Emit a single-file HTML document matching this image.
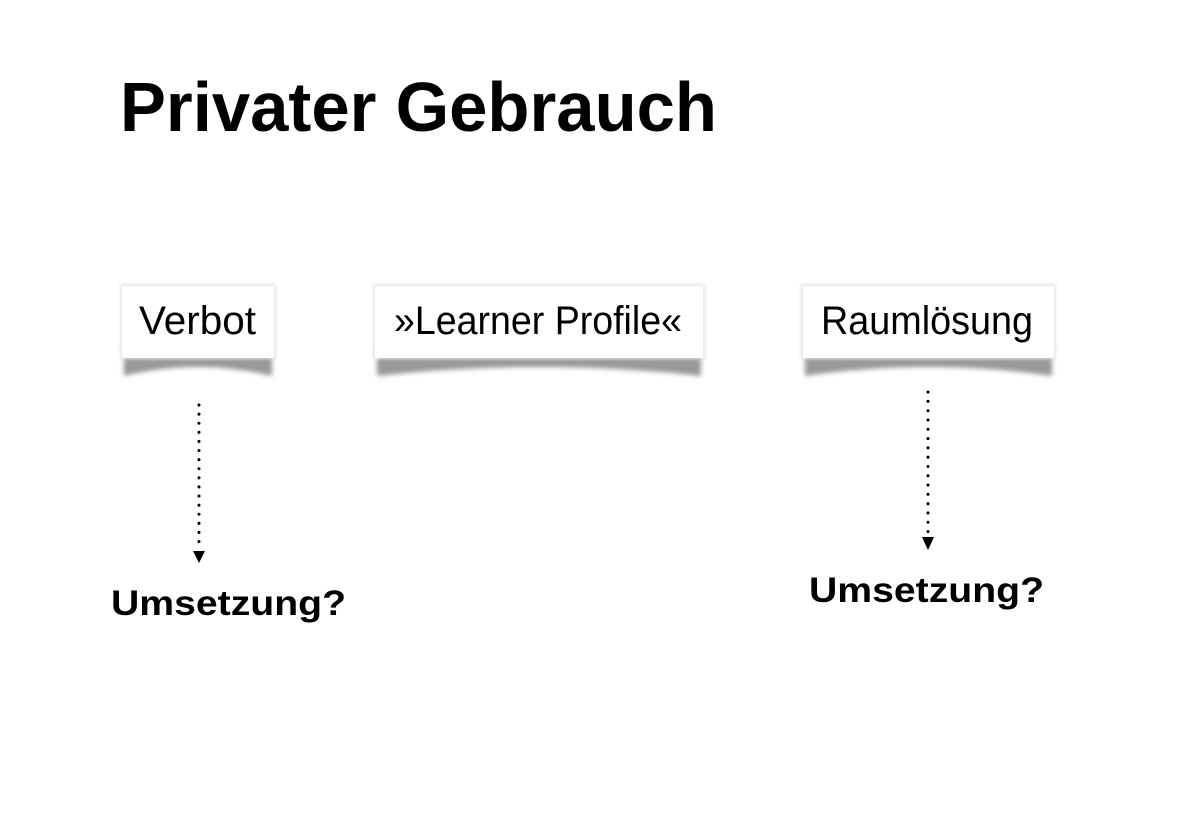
<!DOCTYPE html>
<html><head><meta charset="utf-8"><style>
html,body{margin:0;padding:0;background:#fff;}
svg{display:block;}
text{font-family:"Liberation Sans","DejaVu Sans",sans-serif;fill:#000;}
</style></head><body>
<svg width="1178" height="822" viewBox="0 0 1178 822" xmlns="http://www.w3.org/2000/svg">
<defs>
<filter id="bl" x="-10%" y="-50%" width="120%" height="200%"><feGaussianBlur stdDeviation="2.5"/></filter>
<filter id="sb" x="-10%" y="-20%" width="120%" height="140%"><feGaussianBlur stdDeviation="1.5"/></filter>
</defs>
<text x="120" y="131" font-size="70" font-weight="bold" textLength="597" lengthAdjust="spacingAndGlyphs">Privater Gebrauch</text>

<path d="M124 352 L272 352 L272 376 Q198 358 124 376 Z" fill="#999" filter="url(#bl)"/>
<path d="M377 352 L701 352 L701 376 Q539 358 377 376 Z" fill="#999" filter="url(#bl)"/>
<path d="M805 352 L1052 352 L1052 376 Q928 358 805 376 Z" fill="#999" filter="url(#bl)"/>
<rect x="120" y="284" width="156" height="75" fill="#e6e6e6" filter="url(#sb)"/>
<rect x="373" y="284" width="332" height="75" fill="#e6e6e6" filter="url(#sb)"/>
<rect x="801" y="284" width="255" height="75" fill="#e6e6e6" filter="url(#sb)"/>
<rect x="122" y="286" width="152" height="72" fill="#fff"/>
<rect x="375" y="286" width="328" height="72" fill="#fff"/>
<rect x="803" y="286" width="251" height="72" fill="#fff"/>

<text x="139" y="334" font-size="40" textLength="117" lengthAdjust="spacingAndGlyphs">Verbot</text>
<text x="394" y="334" font-size="40" textLength="288" lengthAdjust="spacingAndGlyphs">»Learner Profile«</text>
<text x="821" y="334" font-size="40" textLength="212" lengthAdjust="spacingAndGlyphs">Raumlösung</text>

<line x1="199" y1="405" x2="199" y2="550" stroke="#000" stroke-width="3" stroke-dasharray="0.1 9" stroke-linecap="round"/>
<polygon points="193,551 205,551 199,563" fill="#000"/>
<line x1="928" y1="392" x2="928" y2="535" stroke="#000" stroke-width="3" stroke-dasharray="0.1 9.2" stroke-linecap="round"/>
<polygon points="922,537 934,537 928,550" fill="#000"/>

<text x="111" y="615" font-size="35" font-weight="bold" textLength="235" lengthAdjust="spacingAndGlyphs">Umsetzung?</text>
<text x="809" y="602" font-size="35" font-weight="bold" textLength="235" lengthAdjust="spacingAndGlyphs">Umsetzung?</text>
</svg>
</body></html>
